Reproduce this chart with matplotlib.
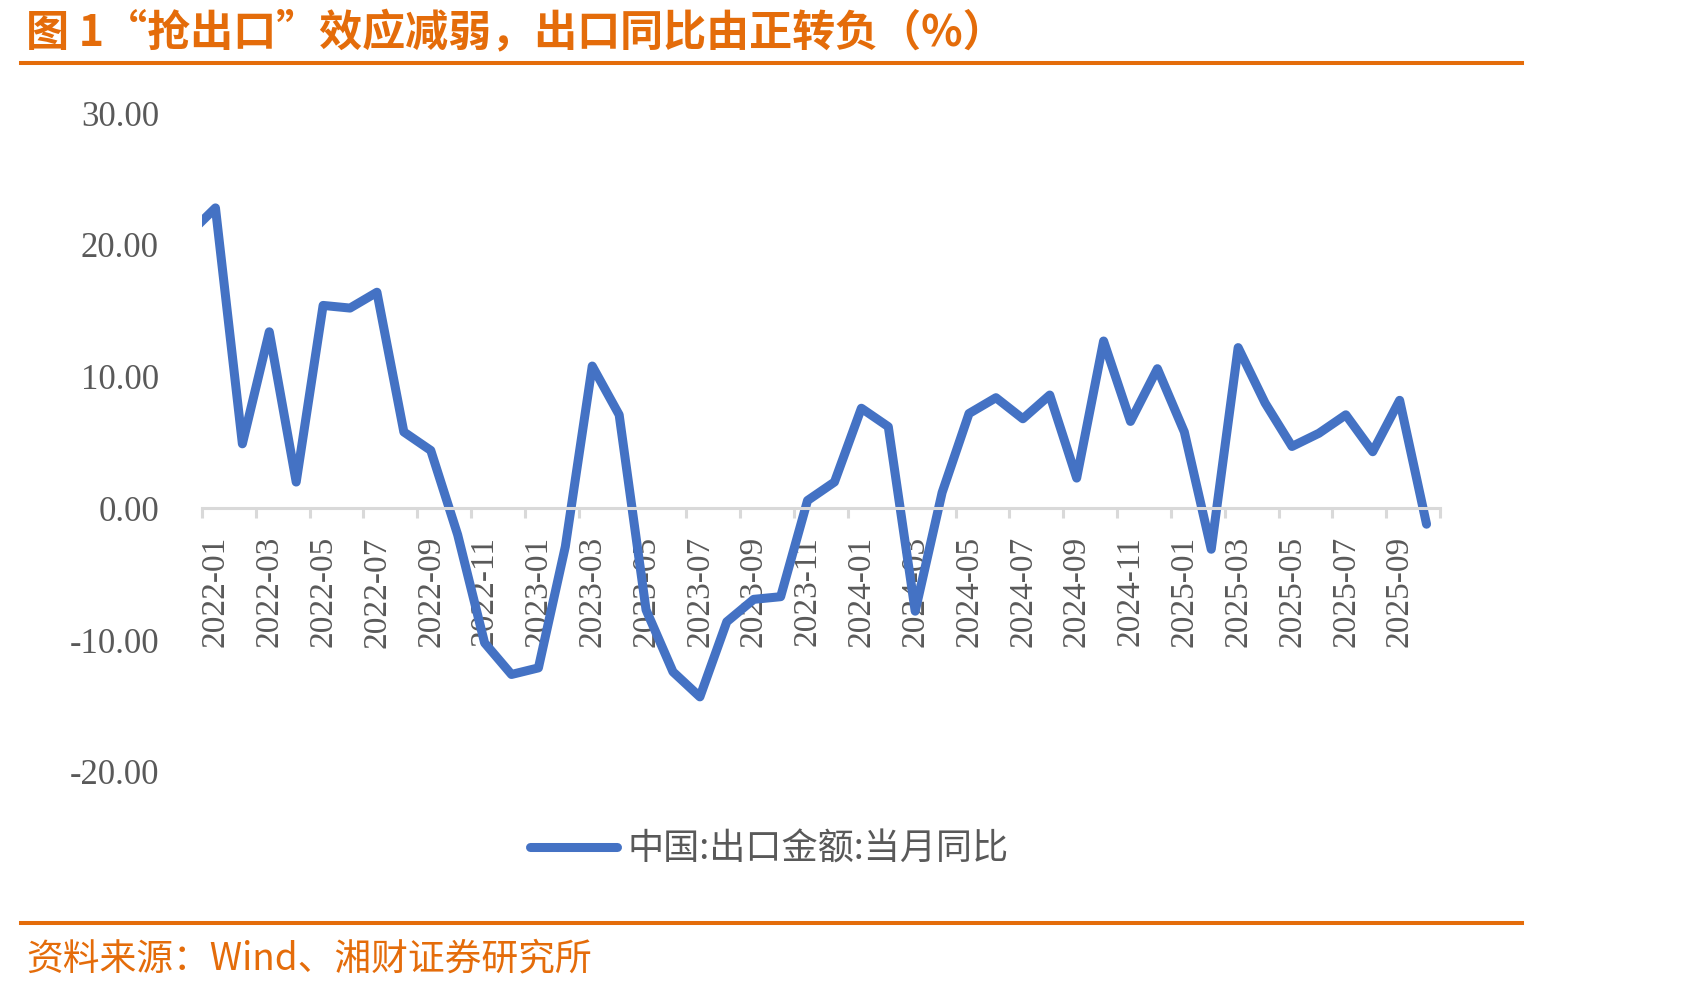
import matplotlib
matplotlib.use('Agg')
import matplotlib.pyplot as plt
from matplotlib.lines import Line2D
from matplotlib.ticker import FixedLocator, FuncFormatter

# 中国出口金额当月同比 (%), 2021-12 只用于左端被裁切的线段
months = ['2021-12',
          '2022-01', '2022-02', '2022-03', '2022-04', '2022-05', '2022-06',
          '2022-07', '2022-08', '2022-09', '2022-10', '2022-11', '2022-12',
          '2023-01', '2023-02', '2023-03', '2023-04', '2023-05', '2023-06',
          '2023-07', '2023-08', '2023-09', '2023-10', '2023-11', '2023-12',
          '2024-01', '2024-02', '2024-03', '2024-04', '2024-05', '2024-06',
          '2024-07', '2024-08', '2024-09', '2024-10', '2024-11', '2024-12',
          '2025-01', '2025-02', '2025-03', '2025-04', '2025-05', '2025-06',
          '2025-07', '2025-08', '2025-09', '2025-10']
export_yoy = [20.8,
              22.8, 4.9, 13.4, 2.0, 15.4, 15.2,
              16.4, 5.8, 4.4, -2.0, -10.2, -12.6,
              -12.1, -2.9, 10.8, 7.1, -7.7, -12.4,
              -14.3, -8.6, -6.9, -6.7, 0.6, 2.0,
              7.6, 6.2, -7.8, 1.2, 7.2, 8.4,
              6.8, 8.6, 2.3, 12.7, 6.6, 10.6,
              5.8, -3.1, 12.2, 8.0, 4.7, 5.7,
              7.1, 4.3, 8.2, -1.2]
yticks = [30, 20, 10, 0, -10, -20]
series_name = '中国:出口金额:当月同比'
title = '图 1“抢出口”效应减弱，出口同比由正转负（%）'
source = '资料来源：Wind、湘财证券研究所'

orange = '#E46C0A'
blue = '#4472C4'
grey_txt = '#595959'
grey_axis = '#D9D9D9'
cjk = ['Noto Sans CJK SC', 'DejaVu Sans']
serif = ['Liberation Serif', 'DejaVu Serif']

W, H = 1689, 989
fig = plt.figure(figsize=(W / 100, H / 100), dpi=100)
ax = fig.add_axes([202 / W, 1 - 772 / H, (1440 - 202) / W, (772 - 113) / H])

x = [i - 1 for i in range(len(months))]
line, = ax.plot(x, export_yoy, color=blue, lw=6.5, solid_capstyle='round',
                solid_joinstyle='round', label=series_name)

ax.set_xlim(-0.5, len(months) - 1.5)
ax.set_ylim(-20, 30)

for s in ['top', 'right', 'left']:
    ax.spines[s].set_visible(False)
ax.spines['bottom'].set_position(('data', 0))
ax.spines['bottom'].set_color(grey_axis)
ax.spines['bottom'].set_linewidth(2.2)

# major ticks between months, labels on every other month
ax.xaxis.set_major_locator(FixedLocator([i - 0.5 for i in range(0, len(months), 2)]))
ax.xaxis.set_major_formatter(FuncFormatter(lambda v, p: ''))
ax.tick_params(axis='x', which='major', direction='out', length=7.2, width=2.2,
               color=grey_axis)
lab_pos = list(range(0, len(months) - 1, 2))
ax.xaxis.set_minor_locator(FixedLocator(lab_pos))
ax.xaxis.set_minor_formatter(FuncFormatter(lambda v, p: months[int(round(v)) + 1]))
ax.tick_params(axis='x', which='minor', length=0, pad=20, labelsize=24,
               labelcolor=grey_txt, labelrotation=90)
for t in ax.xaxis.get_minorticklabels():
    t.set_family(serif)

ax.set_yticks(yticks)
ax.yaxis.set_major_formatter(FuncFormatter(lambda v, p: f'{v:.2f}'))
ax.tick_params(axis='y', length=0, pad=31, labelsize=25, labelcolor=grey_txt)
for t in ax.get_yticklabels():
    t.set_family(serif)

fig.legend(handles=[line], loc='center left', bbox_to_anchor=(530 / W, 1 - 850 / H),
           frameon=False, borderpad=0, borderaxespad=0, handlelength=2.4,
           handletextpad=0.3, prop={'family': cjk, 'size': 26},
           labelcolor=grey_txt)

fig.text(26 / W, 1 - 32 / H, title, fontsize=31, fontweight='bold', color=orange,
         family=cjk, va='center', ha='left')
fig.text(26 / W, 1 - 959 / H, source, fontsize=26.5, color=orange,
         family=cjk, va='center', ha='left')
for yy in [63, 923]:
    fig.add_artist(Line2D([21 / W, 1522 / W], [1 - yy / H, 1 - yy / H],
                          color=orange, lw=2.9))

fig.savefig('out.png', dpi=100)
